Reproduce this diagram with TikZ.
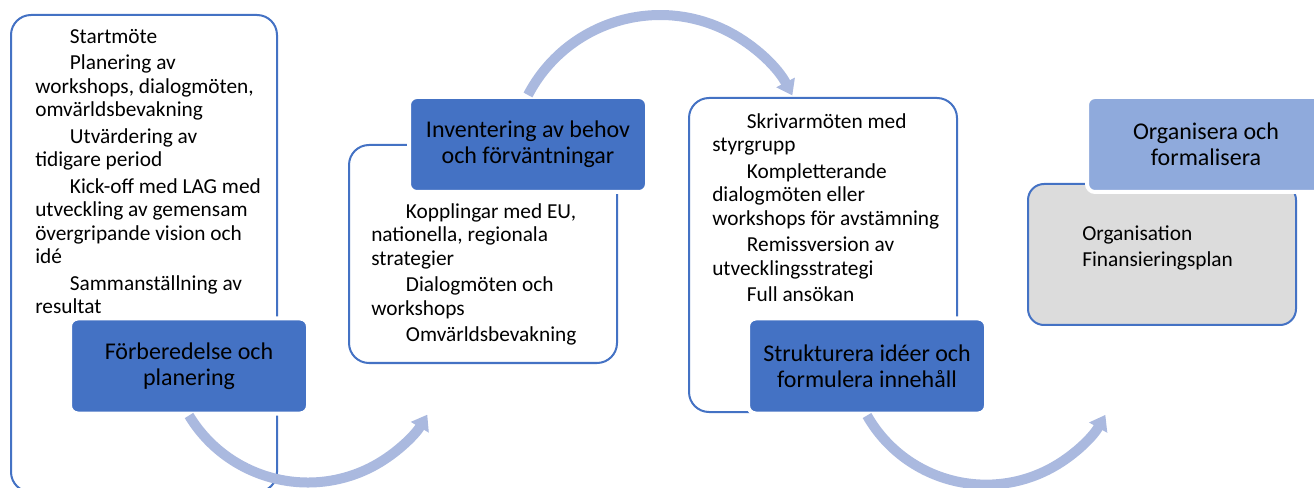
\documentclass[tikz,border=0pt]{standalone}
\usepackage{fontspec}
\setmainfont{Carlito}
\usetikzlibrary{arrows.meta}
\definecolor{accent}{HTML}{4472C4}
\definecolor{lightacc}{HTML}{8FAADC}
\definecolor{flowc}{HTML}{AAB9DF}
\definecolor{greyfill}{HTML}{DCDCDC}
\newcommand\indA{\hspace*{26pt}}
\begin{document}
\begin{tikzpicture}[x=0.75pt,y=0.75pt,
  outline/.style={draw=accent, line width=1.5pt, rounded corners=15pt, fill=white, inner sep=0pt},
  titlebox/.style={fill=accent, draw=white, line width=3pt, rounded corners=6pt, inner sep=0pt,
     minimum width=178.5pt, minimum height=71.25pt, align=center, text=black,
     font=\fontsize{18}{19.6}\selectfont},
  listtext/.style={align=left, inner sep=0pt, text=black, font=\fontsize{16}{17.6}\selectfont},
  flow/.style={draw=flowc, line width=7.5pt, -{Triangle[width=15pt,length=11pt]}}]
\useasboundingbox (0,0) rectangle (1314,-488);
\clip (0,0) rectangle (1314,-488);
% outline boxes
\node[outline, minimum width=199.5pt, minimum height=357.75pt] (b1) at (144,-253.5) {};
\node[outline, minimum width=201pt, minimum height=163.5pt] (b2) at (483,-254) {};
\node[outline, minimum width=201pt, minimum height=235.5pt] (b3) at (823,-255) {};
\node[outline, fill=greyfill, rounded corners=12pt, minimum width=201pt, minimum height=105.75pt] (b4) at (1162,-254.5) {};
% title boxes
\node[titlebox] (t1) at (189,-366) {Förberedelse och\\planering};
\node[titlebox] (t2) at (528,-144.5) {Inventering av behov\\och förväntningar};
\node[titlebox] (t3) at (867,-366) {Strukturera idéer och\\formulera innehåll};
\node[titlebox, fill=lightacc] (t4) at (1206,-144.5) {Organisera och\\formalisera};
% arrows
\draw[flow] (t1.south) arc[start angle=211.2, end angle=329.2, radius=104.25pt];
\draw[flow] (t2.north) arc[start angle=152.4, end angle=27.4, radius=111.75pt];
\draw[flow] (t3.south) arc[start angle=209.7, end angle=330.6, radius=102.75pt];
% list texts
\node[listtext, anchor=north west] (l1) at (35,-29) {\indA Startmöte\\[2.3pt]
\indA Planering av\\workshops, dialogmöten,\\omvärldsbevakning\\[2.3pt]
\indA Utvärdering av\\tidigare period\\[2.3pt]
\indA Kick-off med LAG med\\utveckling av gemensam\\övergripande vision och\\idé\\[2.3pt]
\indA Sammanställning av\\resultat};
\node[listtext, anchor=north west] (l2) at (371,-203) {\indA Kopplingar med EU,\\nationella, regionala\\strategier\\[2.3pt]
\indA Dialogmöten och\\workshops\\[2.3pt]
\indA Omvärldsbevakning};
\node[listtext, anchor=north west] (l3) at (712,-113) {\indA Skrivarmöten med\\styrgrupp\\[2.3pt]
\indA Kompletterande\\dialogmöten eller\\workshops för avstämning\\[2.3pt]
\indA Remissversion av\\utvecklingsstrategi\\[2.3pt]
\indA Full ansökan};
\node[listtext, anchor=north west] (l4) at (1082,-225) {Organisation\\[2.3pt]Finansieringsplan};
\end{tikzpicture}
\end{document}
